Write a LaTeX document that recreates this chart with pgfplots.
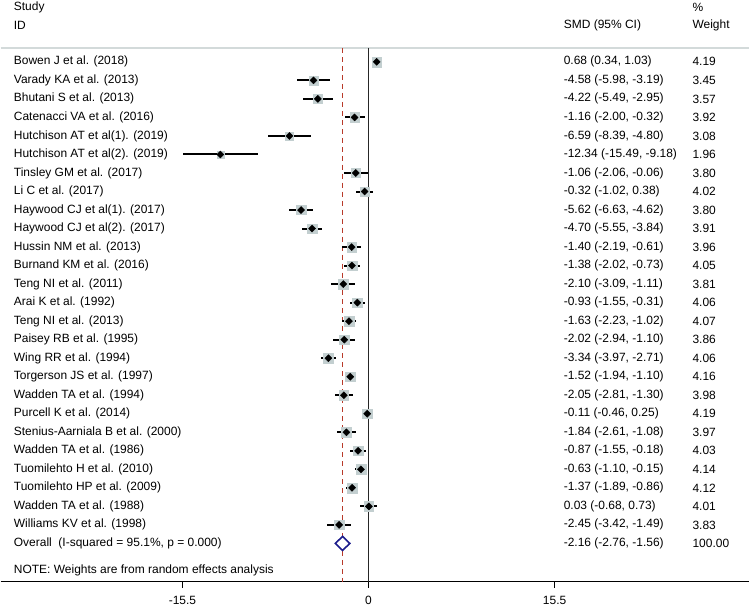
\documentclass[border=0pt]{standalone}
\usepackage{fontspec}
\setmainfont{Liberation Sans}
\usepackage{pgfplots}
\pgfplotsset{compat=1.18}
\usepackage{pgfplotstable}
\definecolor{sqgray}{HTML}{C3CFD0}
\definecolor{navy}{HTML}{1C1C8C}
\definecolor{dashred}{HTML}{B83A2A}
\definecolor{topgray}{HTML}{D3DADA}

\pgfplotstableread{
id est lo hi w
1 0.68 0.34 1.03 4.19
2 -4.58 -5.98 -3.19 3.45
3 -4.22 -5.49 -2.95 3.57
4 -1.16 -2.00 -0.32 3.92
5 -6.59 -8.39 -4.80 3.08
6 -12.34 -15.49 -9.18 1.96
7 -1.06 -2.06 -0.06 3.80
8 -0.32 -1.02 0.38 4.02
9 -5.62 -6.63 -4.62 3.80
10 -4.70 -5.55 -3.84 3.91
11 -1.40 -2.19 -0.61 3.96
12 -1.38 -2.02 -0.73 4.05
13 -2.10 -3.09 -1.11 3.81
14 -0.93 -1.55 -0.31 4.06
15 -1.63 -2.23 -1.02 4.07
16 -2.02 -2.94 -1.10 3.86
17 -3.34 -3.97 -2.71 4.06
18 -1.52 -1.94 -1.10 4.16
19 -2.05 -2.81 -1.30 3.98
20 -0.11 -0.46 0.25 4.19
21 -1.84 -2.61 -1.08 3.97
22 -0.87 -1.55 -0.18 4.03
23 -0.63 -1.10 -0.15 4.14
24 -1.37 -1.89 -0.86 4.12
25 0.03 -0.68 0.73 4.01
26 -2.45 -3.42 -1.49 3.83
}\studies

\newcommand{\studyrow}[4]{%
  \node[anchor=west] at (axis cs:-29.55,#1) {#2};
  \node[anchor=west] at (axis cs:16.25,#1) {#3};
  \node[anchor=west] at (axis cs:26.97,#1) {#4};}

\begin{document}
\begin{tikzpicture}[every node/.append style={font=\fontsize{12}{14}\selectfont, inner sep=0pt}]
\begin{axis}[
  width=750pt, height=610pt, scale only axis,
  xmin=-30.63, xmax=31.71, ymin=-2.34, ymax=30.53, y dir=reverse,
  hide axis, clip=false,
]
\path (rel axis cs:0,0) rectangle (rel axis cs:1,1);
% frame lines
\draw[topgray, line width=1.5pt] (axis cs:-30.63,0.25) -- (axis cs:31.71,0.25);
\draw[black, line width=1.2pt] (axis cs:-30.63,29.07) -- (axis cs:31.71,29.07);
\draw[black, line width=1.2pt] (axis cs:-15.5,29.07) -- (axis cs:-15.5,29.42);
\draw[black, line width=1.2pt] (axis cs:0,29.07) -- (axis cs:0,29.42);
\draw[black, line width=1.2pt] (axis cs:15.5,29.07) -- (axis cs:15.5,29.42);
\node at (axis cs:-15.5,30.1) {-15.5};
\node at (axis cs:0,30.1) {0};
\node at (axis cs:15.5,30.1) {15.5};
% reference lines
\addplot[dashred, line width=1.3pt, dash pattern=on 5pt off 4pt] coordinates {(-2.16,0.25) (-2.16,29.07)};
\addplot[black!85, line width=1.3pt] coordinates {(0,0.25) (0,29.07)};
% weight squares
\addplot[scatter, only marks, mark=square*,
  mark options={draw=sqgray, fill=sqgray},
  visualization depends on={\thisrow{w} \as \wt},
  scatter/@pre marker code/.code={%
    \pgfmathsetmacro\msz{2.4*sqrt(\wt)}%
    \pgfsetplotmarksize{\msz pt}%
    \pgfsetfillcolor{sqgray}\pgfsetstrokecolor{sqgray}},
  scatter/@post marker code/.code={},
] table[x=est, y=id] {\studies};
% CIs and point estimates
\addplot[black, only marks, mark=square*, mark size=2.5pt,
  mark options={fill=black, rotate=45},
  error bars/.cd, x dir=both, x explicit,
  error bar style={line width=2pt, black}, error mark=none,
] table[x=est, y=id,
  x error plus expr=\thisrow{hi}-\thisrow{est},
  x error minus expr=\thisrow{est}-\thisrow{lo}] {\studies};
% overall diamond
\addplot[navy, line width=1.6pt, fill=white, line join=miter] coordinates {(-2.76,27) (-2.16,26.62) (-1.56,27) (-2.16,27.38)} --cycle;
% headers
\node[anchor=west] at (axis cs:-29.55,-1.96) {Study};
\node[anchor=west] at (axis cs:-29.55,-0.99) {ID};
\node[anchor=west] at (axis cs:16.25,-0.99) {SMD (95\% CI)};
\node[anchor=west] at (axis cs:26.97,-1.96) {\%};
\node[anchor=west] at (axis cs:26.97,-0.99) {Weight};
% rows
\studyrow{1}{Bowen J et al. (2018)}{0.68 (0.34, 1.03)}{4.19}
\studyrow{2}{Varady KA et al. (2013)}{-4.58 (-5.98, -3.19)}{3.45}
\studyrow{3}{Bhutani S et al. (2013)}{-4.22 (-5.49, -2.95)}{3.57}
\studyrow{4}{Catenacci VA et al. (2016)}{-1.16 (-2.00, -0.32)}{3.92}
\studyrow{5}{Hutchison AT et al(1). (2019)}{-6.59 (-8.39, -4.80)}{3.08}
\studyrow{6}{Hutchison AT et al(2). (2019)}{-12.34 (-15.49, -9.18)}{1.96}
\studyrow{7}{Tinsley GM et al. (2017)}{-1.06 (-2.06, -0.06)}{3.80}
\studyrow{8}{Li C et al. (2017)}{-0.32 (-1.02, 0.38)}{4.02}
\studyrow{9}{Haywood CJ et al(1). (2017)}{-5.62 (-6.63, -4.62)}{3.80}
\studyrow{10}{Haywood CJ et al(2). (2017)}{-4.70 (-5.55, -3.84)}{3.91}
\studyrow{11}{Hussin NM et al. (2013)}{-1.40 (-2.19, -0.61)}{3.96}
\studyrow{12}{Burnand KM et al. (2016)}{-1.38 (-2.02, -0.73)}{4.05}
\studyrow{13}{Teng NI et al. (2011)}{-2.10 (-3.09, -1.11)}{3.81}
\studyrow{14}{Arai K et al. (1992)}{-0.93 (-1.55, -0.31)}{4.06}
\studyrow{15}{Teng NI et al. (2013)}{-1.63 (-2.23, -1.02)}{4.07}
\studyrow{16}{Paisey RB et al. (1995)}{-2.02 (-2.94, -1.10)}{3.86}
\studyrow{17}{Wing RR et al. (1994)}{-3.34 (-3.97, -2.71)}{4.06}
\studyrow{18}{Torgerson JS et al. (1997)}{-1.52 (-1.94, -1.10)}{4.16}
\studyrow{19}{Wadden TA et al. (1994)}{-2.05 (-2.81, -1.30)}{3.98}
\studyrow{20}{Purcell K et al. (2014)}{-0.11 (-0.46, 0.25)}{4.19}
\studyrow{21}{Stenius-Aarniala B et al. (2000)}{-1.84 (-2.61, -1.08)}{3.97}
\studyrow{22}{Wadden TA et al. (1986)}{-0.87 (-1.55, -0.18)}{4.03}
\studyrow{23}{Tuomilehto H et al. (2010)}{-0.63 (-1.10, -0.15)}{4.14}
\studyrow{24}{Tuomilehto HP et al. (2009)}{-1.37 (-1.89, -0.86)}{4.12}
\studyrow{25}{Wadden TA et al. (1988)}{0.03 (-0.68, 0.73)}{4.01}
\studyrow{26}{Williams KV et al. (1998)}{-2.45 (-3.42, -1.49)}{3.83}
\studyrow{27}{Overall\ \ (I-squared = 95.1\%, p = 0.000)}{-2.16 (-2.76, -1.56)}{100.00}
\node[anchor=west] at (axis cs:-29.55,28.48) {NOTE: Weights are from random effects analysis};
\end{axis}
\end{tikzpicture}
\end{document}
